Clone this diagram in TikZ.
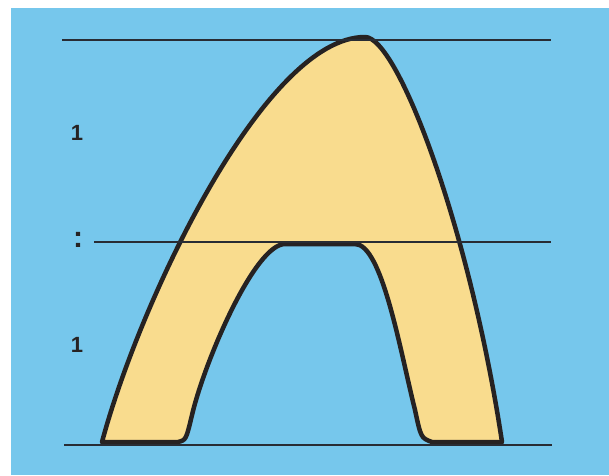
\documentclass[tikz,border=0pt]{standalone}
\usepackage{fontspec}
\setmainfont{Liberation Sans}
\definecolor{sky}{RGB}{118,199,236}
\definecolor{cream}{RGB}{249,220,142}
\definecolor{ink}{RGB}{38,34,34}
\definecolor{rule}{RGB}{40,44,52}
\tikzset{
  guide/.style={draw=rule, line width=2.6pt},
  outline/.style={draw=ink, line width=4.5pt, line join=round, fill=cream},
  lbl/.style={text=ink, font=\bfseries\fontsize{22}{22}\selectfont, inner sep=0pt}
}
\begin{document}
\begin{tikzpicture}[x=1pt,y=-1pt]
\useasboundingbox (0,0) rectangle (609,475);
\fill[white] (0,0) rectangle (609,475);
\fill[sky] (11,8) rectangle (609,475);
% arch shape
\path[outline]
  (102,442) .. controls (140,300) and (265,37) .. (365,37)
  .. controls (398,37) and (470,230) .. (502,442)
  -- (432,442) .. controls (421,438) .. (415,410)
  .. controls (400,350) and (382,244) .. (355,244)
  -- (285,244)
  .. controls (255,244) and (205,360) .. (192,415)
  .. controls (186,440) .. (178,442) -- cycle;
% guide lines
\coordinate (t1) at (62,40);  \coordinate (t2) at (551,40);
\coordinate (m1) at (94,242); \coordinate (m2) at (551,242);
\coordinate (b1) at (64,445); \coordinate (b2) at (552,445);
\draw[guide] (t1) -- (t2);
\draw[guide] (m1) -- (m2);
\draw[guide] (b1) -- (b2);
% labels
\node[lbl] (l1) at (77,133) {1};
\node[lbl, font=\bfseries\fontsize{30}{30}\selectfont] (l2) at (78,240) {:};
\node[lbl] (l3) at (77,345) {1};
\end{tikzpicture}
\end{document}
